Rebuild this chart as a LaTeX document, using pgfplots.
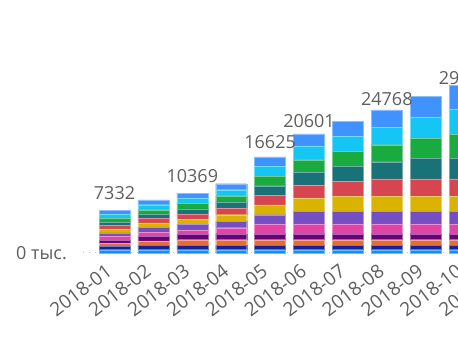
\documentclass[border=0pt]{standalone}
\usepackage{pgfplots}
\pgfplotsset{compat=1.18}
\usepackage{fontspec}
\setmainfont{Open Sans}
\definecolor{c1}{HTML}{118DFF}
\definecolor{c2}{HTML}{12239E}
\definecolor{c3}{HTML}{E66C37}
\definecolor{c4}{HTML}{6B007B}
\definecolor{c5}{HTML}{E044A7}
\definecolor{c6}{HTML}{744EC2}
\definecolor{c7}{HTML}{D9B300}
\definecolor{c8}{HTML}{D64550}
\definecolor{c9}{HTML}{197278}
\definecolor{c10}{HTML}{1AAB40}
\definecolor{c11}{HTML}{15C6F4}
\definecolor{c12}{HTML}{4092FF}
\definecolor{txt}{HTML}{605E5C}
\begin{document}
\begin{tikzpicture}
\begin{axis}[
  at={(83pt,105pt)}, anchor=south west,
  scale only axis, width=459.4pt, height=173.3pt,
  xmin=-0.81, xmax=11, ymin=0, ymax=30000,
  scaled y ticks=false,
  ybar stacked, bar width=31pt, clip=false,
  axis line style={draw=none}, major tick length=0pt,
  xtick={0,...,10},
  xticklabels={2018-01,2018-02,2018-03,2018-04,2018-05,2018-06,2018-07,2018-08,2018-09,2018-10,2018-11},
  ytick={0}, yticklabels={0 тыс.},
  ymajorgrids, grid style={gray!45, line width=1pt, dash pattern=on 1pt off 5pt},
  xticklabel style={xshift=-9.5pt, yshift=-10pt, rotate=37, anchor=north east, inner sep=0pt,
    font=\fontsize{19}{21}\selectfont, text=txt},
  yticklabel style={anchor=east, inner sep=0pt, xshift=-16pt,
    font=\fontsize{18}{20}\selectfont, text=txt},
]
\addplot[fill=c1, draw=c1!60!white, line width=0.3pt] coordinates {(0,571) (1,577) (2,577) (3,577) (4,577) (5,577) (6,577) (7,577) (8,577) (9,577)};
\addplot[fill=c2, draw=c2!60!white, line width=0.3pt] coordinates {(0,571) (1,750) (2,750) (3,750) (4,750) (5,750) (6,750) (7,750) (8,750) (9,750)};
\addplot[fill=c3, draw=c3!60!white, line width=0.3pt] coordinates {(0,571) (1,750) (2,981) (3,981) (4,981) (5,981) (6,981) (7,981) (8,981) (9,981)};
\addplot[fill=c4, draw=c4!60!white, line width=0.3pt] coordinates {(0,519) (1,808) (2,923) (3,1039) (4,1039) (5,1039) (6,1039) (7,1039) (8,1039) (9,1039)};
\addplot[fill=c5, draw=c5!60!white, line width=0.3pt] coordinates {(0,744) (1,692) (2,770) (3,1039) (4,1673) (5,1673) (6,1673) (7,1673) (8,1673) (9,1673)};
\addplot[fill=c6, draw=c6!60!white, line width=0.3pt] coordinates {(0,519) (1,866) (2,923) (3,1090) (4,1616) (5,2193) (6,2193) (7,2193) (8,2193) (9,2193)};
\addplot[fill=c7, draw=c7!60!white, line width=0.3pt] coordinates {(0,692) (1,750) (2,923) (3,1160) (4,1673) (5,2308) (6,2597) (7,2597) (8,2597) (9,2597)};
\addplot[fill=c8, draw=c8!60!white, line width=0.3pt] coordinates {(0,571) (1,808) (2,866) (3,1160) (4,1673) (5,2250) (6,2597) (7,3000) (8,3000) (9,3000)};
\addplot[fill=c9, draw=c9!60!white, line width=0.3pt] coordinates {(0,571) (1,750) (2,923) (3,1039) (4,1673) (5,2193) (6,2597) (7,3000) (8,3577) (9,3577)};
\addplot[fill=c10, draw=c10!60!white, line width=0.3pt] coordinates {(0,692) (1,750) (2,981) (3,1090) (4,1616) (5,2193) (6,2597) (7,2943) (8,3520) (9,4212)};
\addplot[fill=c11, draw=c11!60!white, line width=0.3pt] coordinates {(0,692) (1,866) (2,923) (3,1039) (4,1731) (5,2308) (6,2597) (7,3058) (8,3635) (9,4328)};
\addplot[fill=c12, draw=c12!60!white, line width=0.3pt,
  nodes near coords, point meta=explicit symbolic,
  nodes near coords style={anchor=base, yshift=13pt, inner sep=0pt,
    font=\fontsize{18}{20}\selectfont, text=txt}]
  coordinates {(0,619)[7332] (1,808)[] (2,829)[10369] (3,1039)[] (4,1623)[16625] (5,2136)[20601] (6,2597)[] (7,2957)[24768] (8,3577)[] (9,4097)[29024]};
\end{axis}
\pgfresetboundingbox
\useasboundingbox (0,0) rectangle (458pt,358pt);
\end{tikzpicture}
\end{document}
